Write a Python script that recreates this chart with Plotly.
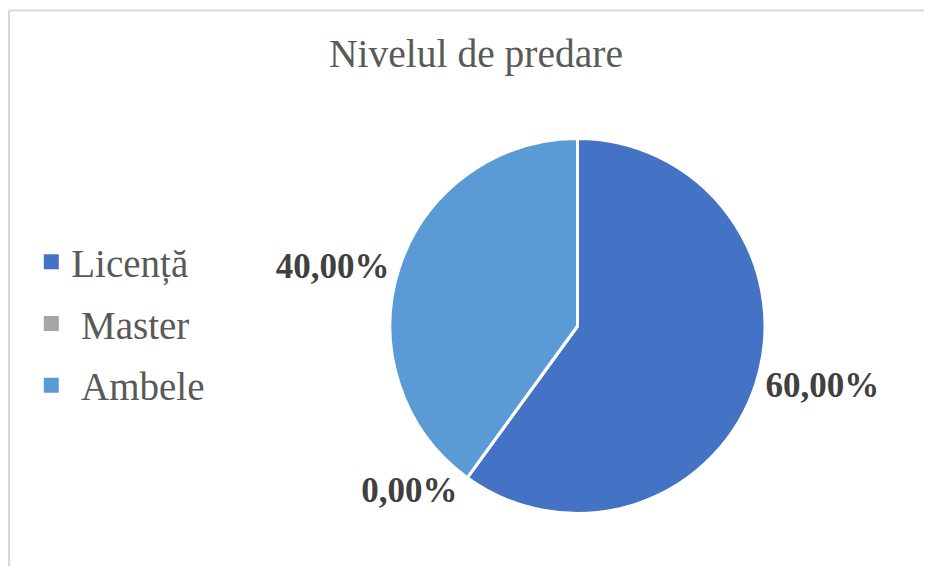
import plotly.graph_objects as go

categories = ["Licență", "\u00a0Master", "\u00a0Ambele"]
values = [60, 0, 40]
colors = ["#4472C4", "#A5A5A5", "#5B9BD5"]
title_text = "Nivelul de predare"

W, H = 932, 566

fig = go.Figure()
fig.add_trace(go.Pie(
    labels=categories,
    values=values,
    sort=False,
    direction="clockwise",
    rotation=0,
    marker=dict(colors=colors, line=dict(color="white", width=3)),
    textposition="outside",
    texttemplate="%{percent:.2%}",
    textfont=dict(family="Liberation Serif", size=35, color="#404040", weight="bold"),
    domain=dict(x=[382 / W, 757 / W], y=[1 - 506 / H, 1 - 130 / H]),
    hoverinfo="label+percent",
    showlegend=False,
))

# legend entries (square swatches) for the pie slices
for i, (name, col) in enumerate(zip(categories, colors)):
    fig.add_trace(go.Scatter(
        x=[None], y=[None], mode="markers", name=name,
        legendgroup=f"g{i}",
        marker=dict(symbol="square", size=15, color=col),
        showlegend=True, hoverinfo="skip",
    ))

fig.update_layout(
    width=W, height=H,
    separators=",.",
    margin=dict(l=0, r=0, t=0, b=0),
    paper_bgcolor="white",
    plot_bgcolor="white",
    xaxis=dict(visible=False),
    yaxis=dict(visible=False),
    title=dict(text=title_text, x=468 / W, xanchor="center", y=1 - 45 / H, yanchor="middle",
               font=dict(family="Liberation Serif", size=39.5, color="#595959")),
    legend=dict(x=0.025, xanchor="left", y=1 - 316 / H, yanchor="middle",
                font=dict(family="Liberation Serif", size=39, color="#595959"),
                tracegroupgap=8,
                bgcolor="rgba(0,0,0,0)"),
    shapes=[
        dict(type="line", xref="paper", yref="paper", x0=1 / W, x1=1, y0=1 - 2.5 / H, y1=1 - 2.5 / H,
             line=dict(color="#D9D9D9", width=2)),
        dict(type="line", xref="paper", yref="paper", x0=1 / W, x1=1 / W, y0=0, y1=1 - 2.5 / H,
             line=dict(color="#D9D9D9", width=2)),
    ],
)

fig.write_html("out.html")
